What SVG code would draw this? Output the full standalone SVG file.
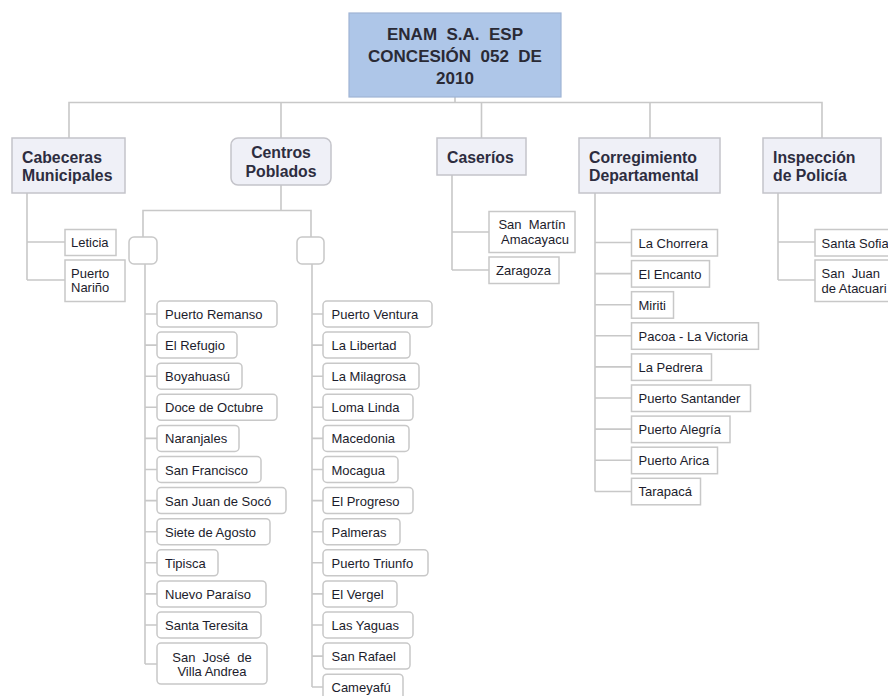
<svg xmlns="http://www.w3.org/2000/svg" width="888" height="696" viewBox="0 0 888 696" xml:space="preserve">
<style>
text{white-space:pre}
.root{fill:#aec6e8;stroke:#9fb4d4;stroke-width:1.2}
.l1{fill:#eff0f7;stroke:#c4c4ca;stroke-width:1.5}
.lf{fill:#ffffff;stroke:#c8c8c8;stroke-width:1.5}
.c{fill:none;stroke:#c8c8c8;stroke-width:1.6}
.tr{font-family:"Liberation Sans",Arial,sans-serif;font-weight:bold;font-size:17px;fill:#2a2a35;text-anchor:middle}
.t1{font-family:"Liberation Sans",Arial,sans-serif;font-weight:bold;font-size:15.8px;fill:#2d2d40}
.tl{font-family:"Liberation Sans",Arial,sans-serif;font-size:13px;fill:#1c1c2c}
.m{text-anchor:middle}
</style>
<rect width="888" height="696" fill="#ffffff"/>
<g id="connectors">
<path class="c" d="M455 97V102.5M69 138V102.5H822V138M281 102.5V138M481.5 102.5V138M650 102.5V138"/>
<path class="c" d="M27 193V280M27 242H65M27 280H65"/>
<path class="c" d="M281 185V210.5M143 237V210.5H311V237"/>
<path class="c" d="M145 264V664M145 314H157M145 345.1H157M145 376.2H157M145 407.3H157M145 438.4H157M145 469.5H157M145 500.6H157M145 531.7H157M145 562.8H157M145 593.9H157M145 625H157M145 664H157"/>
<path class="c" d="M312 264V687M312 314H323M312 345.1H323M312 376.2H323M312 407.3H323M312 438.4H323M312 469.5H323M312 500.6H323M312 531.7H323M312 562.8H323M312 593.9H323M312 625H323M312 656.1H323M312 687H323"/>
<path class="c" d="M452 175V270M452 232H489M452 270H489"/>
<path class="c" d="M595 193V491.5M595 242.5H631.5M595 273.6H631.5M595 304.7H631.5M595 335.8H631.5M595 366.9H631.5M595 398H631.5M595 429.1H631.5M595 460.2H631.5M595 491.5H631.5"/>
<path class="c" d="M778 193V280M778 242H815M778 280H815"/>
</g>
<g id="root"><rect class="root" x="349" y="13" width="212" height="84"/>
<text class="tr" x="455" y="40">ENAM  S.A.  ESP</text>
<text class="tr" x="455" y="62">CONCESIÓN  052  DE</text>
<text class="tr" x="455" y="84">2010</text></g>
<g id="cabeceras"><rect class="l1" x="12" y="138" width="113" height="55"/>
<text class="t1" x="22" y="163">Cabeceras</text><text class="t1" x="22" y="181">Municipales</text></g>
<g id="centros"><rect class="l1" x="231" y="138" width="100" height="47" rx="7"/>
<text class="t1 m" x="281" y="158">Centros</text><text class="t1 m" x="281" y="176.5">Poblados</text></g>
<g id="caserios"><rect class="l1" x="437" y="138" width="89" height="37"/>
<text class="t1" x="447" y="163">Caseríos</text></g>
<g id="corregimiento"><rect class="l1" x="579" y="138" width="141" height="55"/>
<text class="t1" x="589" y="163">Corregimiento</text><text class="t1" x="589" y="181">Departamental</text></g>
<g id="inspeccion"><rect class="l1" x="763" y="138" width="118" height="55"/>
<text class="t1" x="773" y="163">Inspección</text><text class="t1" x="773" y="181">de Policía</text></g>
<g id="leticia"><rect class="lf" x="65" y="229.5" width="51" height="26"/><text class="tl" x="71" y="246.5">Leticia</text></g>
<g id="puerto-narino"><rect class="lf" x="65" y="260" width="60" height="41.5"/><text class="tl" x="71" y="278">Puerto</text><text class="tl" x="71" y="292">Nariño</text></g>
<g id="grupo-izq"><rect class="lf" x="129" y="237" width="28" height="27" rx="5"/></g>
<g id="grupo-der"><rect class="lf" x="297" y="237" width="27" height="27" rx="5"/></g>
<g id="puerto-remanso"><rect class="lf" x="157" y="301" width="120" height="26" rx="4"/><text class="tl" x="165" y="319">Puerto Remanso</text></g>
<g id="el-refugio"><rect class="lf" x="157" y="332.1" width="80" height="26" rx="4"/><text class="tl" x="165" y="350.1">El Refugio</text></g>
<g id="boyahuasu"><rect class="lf" x="157" y="363.2" width="85" height="26" rx="4"/><text class="tl" x="165" y="381.2">Boyahuasú</text></g>
<g id="doce-de-octubre"><rect class="lf" x="157" y="394.3" width="120" height="26" rx="4"/><text class="tl" x="165" y="412.3">Doce de Octubre</text></g>
<g id="naranjales"><rect class="lf" x="157" y="425.4" width="82" height="26" rx="4"/><text class="tl" x="165" y="443.4">Naranjales</text></g>
<g id="san-francisco"><rect class="lf" x="157" y="456.5" width="104" height="26" rx="4"/><text class="tl" x="165" y="474.5">San Francisco</text></g>
<g id="san-juan-de-soco"><rect class="lf" x="157" y="487.6" width="129" height="26" rx="4"/><text class="tl" x="165" y="505.6">San Juan de Socó</text></g>
<g id="siete-de-agosto"><rect class="lf" x="157" y="518.7" width="113" height="26" rx="4"/><text class="tl" x="165" y="536.7">Siete de Agosto</text></g>
<g id="tipisca"><rect class="lf" x="157" y="549.8" width="61" height="26" rx="4"/><text class="tl" x="165" y="567.8">Tipisca</text></g>
<g id="nuevo-paraiso"><rect class="lf" x="157" y="580.9" width="109" height="26" rx="4"/><text class="tl" x="165" y="598.9">Nuevo Paraíso</text></g>
<g id="santa-teresita"><rect class="lf" x="157" y="612" width="104" height="26" rx="4"/><text class="tl" x="165" y="630">Santa Teresita</text></g>
<g id="san-jose-de-villa-andrea"><rect class="lf" x="157" y="643.1" width="110" height="41" rx="4"/><text class="tl m" x="212" y="661.5">San  José  de</text><text class="tl m" x="212" y="676">Villa Andrea</text></g>
<g id="puerto-ventura"><rect class="lf" x="323" y="301" width="109" height="26" rx="4"/><text class="tl" x="331.5" y="319">Puerto Ventura</text></g>
<g id="la-libertad"><rect class="lf" x="323" y="332.1" width="87" height="26" rx="4"/><text class="tl" x="331.5" y="350.1">La Libertad</text></g>
<g id="la-milagrosa"><rect class="lf" x="323" y="363.2" width="96" height="26" rx="4"/><text class="tl" x="331.5" y="381.2">La Milagrosa</text></g>
<g id="loma-linda"><rect class="lf" x="323" y="394.3" width="90" height="26" rx="4"/><text class="tl" x="331.5" y="412.3">Loma Linda</text></g>
<g id="macedonia"><rect class="lf" x="323" y="425.4" width="86" height="26" rx="4"/><text class="tl" x="331.5" y="443.4">Macedonia</text></g>
<g id="mocagua"><rect class="lf" x="323" y="456.5" width="75" height="26" rx="4"/><text class="tl" x="331.5" y="474.5">Mocagua</text></g>
<g id="el-progreso"><rect class="lf" x="323" y="487.6" width="90" height="26" rx="4"/><text class="tl" x="331.5" y="505.6">El Progreso</text></g>
<g id="palmeras"><rect class="lf" x="323" y="518.7" width="77" height="26" rx="4"/><text class="tl" x="331.5" y="536.7">Palmeras</text></g>
<g id="puerto-triunfo"><rect class="lf" x="323" y="549.8" width="105" height="26" rx="4"/><text class="tl" x="331.5" y="567.8">Puerto Triunfo</text></g>
<g id="el-vergel"><rect class="lf" x="323" y="580.9" width="74" height="26" rx="4"/><text class="tl" x="331.5" y="598.9">El Vergel</text></g>
<g id="las-yaguas"><rect class="lf" x="323" y="612" width="90" height="26" rx="4"/><text class="tl" x="331.5" y="630">Las Yaguas</text></g>
<g id="san-rafael"><rect class="lf" x="323" y="643.1" width="87" height="26" rx="4"/><text class="tl" x="331.5" y="661.1">San Rafael</text></g>
<g id="cameyafu"><rect class="lf" x="323" y="674.2" width="80" height="26" rx="4"/><text class="tl" x="331.5" y="692.2">Cameyafú</text></g>
<g id="san-martin-amacayacu"><rect class="lf" x="489" y="211.5" width="86" height="41"/><text class="tl m" x="532" y="229">San  Martín</text><text class="tl m" x="535" y="243.5">Amacayacu</text></g>
<g id="zaragoza"><rect class="lf" x="489" y="257" width="70" height="26.5"/><text class="tl" x="496" y="275">Zaragoza</text></g>
<g id="la-chorrera"><rect class="lf" x="631.5" y="229.5" width="86" height="26.5"/><text class="tl" x="638.5" y="247.5">La Chorrera</text></g>
<g id="el-encanto"><rect class="lf" x="631.5" y="260.6" width="78" height="26.5"/><text class="tl" x="638.5" y="278.6">El Encanto</text></g>
<g id="miriti"><rect class="lf" x="631.5" y="291.7" width="42" height="26.5"/><text class="tl" x="638.5" y="309.7">Miriti</text></g>
<g id="pacoa-la-victoria"><rect class="lf" x="631.5" y="322.8" width="127" height="26.5"/><text class="tl" x="638.5" y="340.8">Pacoa - La Victoria</text></g>
<g id="la-pedrera"><rect class="lf" x="631.5" y="353.9" width="80" height="26.5"/><text class="tl" x="638.5" y="371.9">La Pedrera</text></g>
<g id="puerto-santander"><rect class="lf" x="631.5" y="385" width="119" height="26.5"/><text class="tl" x="638.5" y="403">Puerto Santander</text></g>
<g id="puerto-alegria"><rect class="lf" x="631.5" y="416.1" width="98.5" height="26.5"/><text class="tl" x="638.5" y="434.1">Puerto Alegría</text></g>
<g id="puerto-arica"><rect class="lf" x="631.5" y="447.2" width="86" height="26.5"/><text class="tl" x="638.5" y="465.2">Puerto Arica</text></g>
<g id="tarapaca"><rect class="lf" x="631.5" y="478.3" width="69" height="26.5"/><text class="tl" x="638.5" y="496.3">Tarapacá</text></g>
<g id="santa-sofia"><rect class="lf" x="815" y="229.5" width="80" height="26.5"/><text class="tl" x="821.5" y="247.5">Santa Sofia</text></g>
<g id="san-juan-de-atacuari"><rect class="lf" x="815" y="260" width="80" height="41.5"/><text class="tl" x="821.5" y="278">San  Juan</text><text class="tl" x="821.5" y="293">de Atacuari</text></g>
</svg>
